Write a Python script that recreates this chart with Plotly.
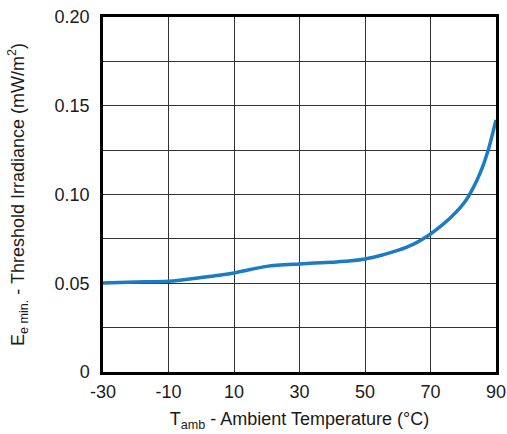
import plotly.graph_objects as go

temperature = [-30, -20, -10, 0, 10, 20, 30, 40, 45, 50, 55, 60, 65, 69, 72, 76, 79, 81, 84, 86, 87, 88, 89, 90]
irradiance = [0.0502, 0.0507, 0.0511, 0.0532, 0.0558, 0.0595, 0.0609, 0.0619, 0.0625, 0.0637, 0.0658, 0.0685, 0.0722, 0.0765, 0.0805, 0.0868, 0.0925, 0.0972, 0.1073, 0.1160, 0.1214, 0.1275, 0.1346, 0.1420]

x_grid = [-30, -10, 10, 30, 50, 70, 90]
x_labels = ["-30", "-10", "10", "30", "50", "70", "90"]
y_grid = [0, 0.025, 0.05, 0.075, 0.10, 0.125, 0.15, 0.175, 0.20]
y_labels = ["0", "", "0.05", "", "0.10", "", "0.15", "", "0.20"]

fig = go.Figure()
fig.add_trace(go.Scatter(
    x=temperature, y=irradiance, mode="lines",
    line=dict(color="#1b7cc3", width=3.5, shape="spline", smoothing=0.8),
    showlegend=False, cliponaxis=True,
))

font = dict(family="Liberation Sans, Arial, sans-serif", size=18, color="#1a1a1a")

fig.update_layout(
    width=507, height=434,
    margin=dict(l=103, r=11, t=17, b=62, autoexpand=False),
    paper_bgcolor="white", plot_bgcolor="white",
    font=font,
    xaxis=dict(
        range=[-30, 90], tickvals=x_grid, ticktext=x_labels,
        showgrid=True, gridcolor="#333333", gridwidth=1,
        showline=True, linecolor="black", linewidth=2.5, mirror=True,
        ticks="", zeroline=False, automargin=False, ticklabelstandoff=2,
        ticklabeloverflow="allow",
        title=dict(text="T<sub>amb</sub> - Ambient Temperature (°C)", font=font, standoff=12),
    ),
    yaxis=dict(
        range=[0, 0.20], tickvals=y_grid, ticktext=y_labels,
        showgrid=True, gridcolor="#333333", gridwidth=1,
        showline=True, linecolor="black", linewidth=2.5, mirror=True,
        ticks="", zeroline=False, automargin=False, ticklabelstandoff=7,
        ticklabeloverflow="allow",
        title=dict(text="E<sub>e min.</sub> - Threshold Irradiance (mW/m<sup>2</sup>)", font=font, standoff=26),
    ),
)

fig.write_html(
    "out.html",
    config={"displayModeBar": False},
    post_script="document.body.style.margin='0';document.body.style.padding='0';",
)
